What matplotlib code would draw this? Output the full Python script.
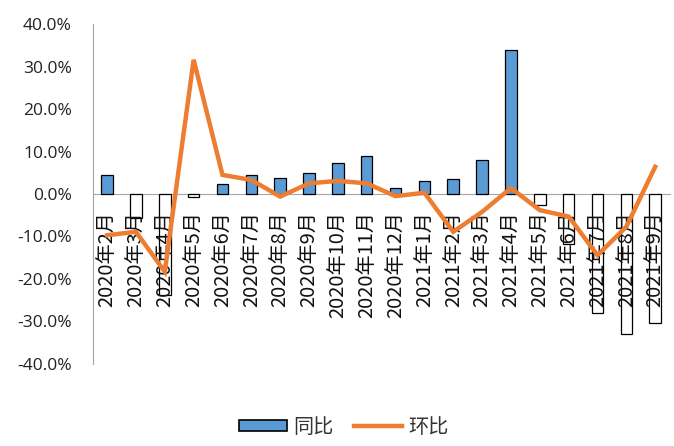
import matplotlib
matplotlib.use("Agg")
import matplotlib.pyplot as plt
from matplotlib.ticker import FuncFormatter
from matplotlib.patches import Patch
from matplotlib.lines import Line2D

plt.rcParams['font.family'] = ['Noto Sans CJK SC', 'DejaVu Sans']

categories = ["2020年2月", "2020年3月", "2020年4月", "2020年5月", "2020年6月", "2020年7月",
              "2020年8月", "2020年9月", "2020年10月", "2020年11月", "2020年12月",
              "2021年1月", "2021年2月", "2021年3月", "2021年4月", "2021年5月",
              "2021年6月", "2021年7月", "2021年8月", "2021年9月"]
yoy = [4.5, -5.7, -23.8, -0.7, 2.3, 4.5, 3.8, 4.9, 7.3, 9.0, 1.4,
       3.1, 3.5, 8.0, 34.0, -2.6, -11.8, -28.1, -32.9, -30.4]
mom = [-9.7, -8.9, -18.3, 31.6, 4.5, 3.3, -0.6, 2.5, 3.1, 2.5, -0.5,
       0.3, -8.9, -4.2, 1.4, -3.8, -5.3, -14.4, -7.7, 6.4]
yticks = [40, 30, 20, 10, 0, -10, -20, -30, -40]

blue = '#5B9BD5'
orange = '#ED7D31'

fig = plt.figure(figsize=(6.74, 4.46), dpi=100)
ax = fig.add_axes([0.1375, 0.184, 0.856, 0.762])

x = list(range(len(categories)))
for xi, v in zip(x, yoy):
    ax.bar(xi, v, width=0.4, color=blue if v >= 0 else 'white',
           edgecolor='black', linewidth=0.9, zorder=2)
ax.plot(x, mom, color=orange, linewidth=3.2, zorder=3, solid_joinstyle='miter')
ax.set_axisbelow(False)

ax.set_xlim(-0.5, len(categories) - 0.5)
ax.set_ylim(-40, 40)
ax.set_yticks(yticks)
ax.yaxis.set_major_formatter(FuncFormatter(lambda v, p: f"{v:.1f}%"))
ax.tick_params(axis='y', length=0, pad=15, labelsize=12.5, labelcolor='#222222')
for lbl in ax.get_yticklabels():
    lbl.set_fontfamily(['Open Sans', 'DejaVu Sans'])

ax.spines['top'].set_visible(False)
ax.spines['right'].set_visible(False)
ax.spines['left'].set_color('#a6a6a6')
ax.spines['bottom'].set_color('#a6a6a6')
ax.spines['bottom'].set_position(('data', 0))
ax.spines['bottom'].set_zorder(1)

ax.set_xticks(x)
ax.set_xticklabels(categories, rotation=90, fontsize=14.5, color='#111111')
ax.tick_params(axis='x', length=0, pad=12)

handles = [Patch(facecolor=blue, edgecolor='black', linewidth=1.2),
           Line2D([0], [0], color=orange, linewidth=3.2)]
fig.legend(handles, ['同比', '环比'], loc='lower center', bbox_to_anchor=(0.51, -0.022),
           ncol=2, frameon=False, fontsize=14.5, handlelength=2.4, handleheight=0.5,
           columnspacing=1.0, handletextpad=0.3, labelcolor='#333333')

fig.savefig('out.png', dpi=100)
